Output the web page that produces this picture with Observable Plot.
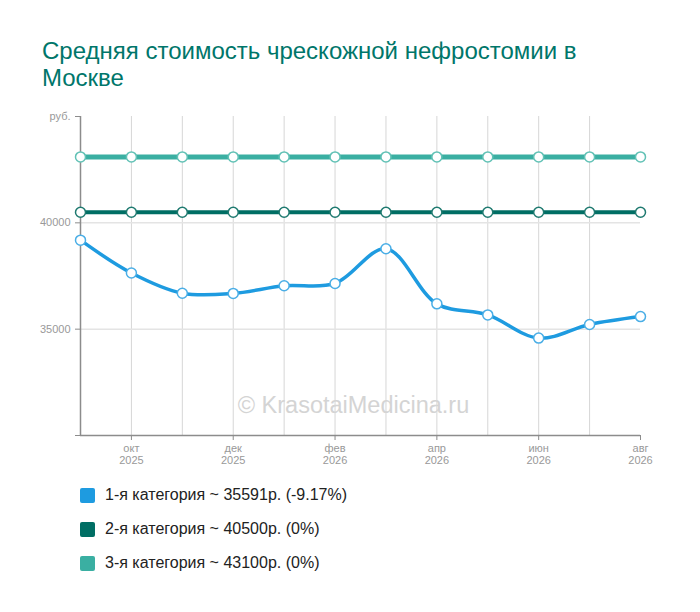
<!DOCTYPE html>
<html>
<head>
<meta charset="utf-8">
<script src="https://cdn.jsdelivr.net/npm/d3@7"></script>
<script src="https://cdn.jsdelivr.net/npm/@observablehq/plot@0.6"></script>
<style>
  body { margin: 0; width: 700px; height: 612px; position: relative; background: #fff; font-family: "Liberation Sans", Arial, sans-serif; overflow: hidden; }
  .title { position: absolute; left: 42px; font-size: 24px; line-height: 24px; height: 24px; color: #00766a; white-space: nowrap; }
  #chart { position: absolute; left: 0; top: 100px; }
  #legend { position: absolute; left: 80px; top: 486px; }
  .row { display: flex; align-items: center; height: 18px; margin-bottom: 16px; font-size: 16px; color: #222; }
  .sw { width: 15px; height: 15px; border-radius: 2px; margin-right: 10px; }
</style>
</head>
<body>
<div class="title" style="top:39px">Средняя стоимость чрескожной нефростомии в</div>
<div class="title" style="top:66px">Москве</div>
<div id="chart"></div>
<div id="legend"></div>
<script>
const months = ["сен\n2025","окт\n2025","ноя\n2025","дек\n2025","янв\n2026","фев\n2026","мар\n2026","апр\n2026","май\n2026","июн\n2026","июл\n2026","авг\n2026"];
const cat1 = [39184, 37640, 36690, 36680, 37040, 37150, 38780, 36190, 35670, 34580, 35220, 35591];
const cat2 = [40500, 40500, 40500, 40500, 40500, 40500, 40500, 40500, 40500, 40500, 40500, 40500];
const cat3 = [43100, 43100, 43100, 43100, 43100, 43100, 43100, 43100, 43100, 43100, 43100, 43100];
const seriesNames = ["1-я категория", "2-я категория", "3-я категория"];
const seriesColors = ["#1e9be0", "#006e64", "#3aafa2"];
const markerColors = ["#4aaee6", "#1f7a70", "#62c2b6"];
const yTicks = [30000, 35000, 40000, 45000];
const yGrid = [35000, 40000];
const legendTexts = ["1-я категория ~ 35591р. (-9.17%)", "2-я категория ~ 40500р. (0%)", "3-я категория ~ 43100р. (0%)"];

const idx = months.map((d, i) => i);
const toRows = (vals, s) => vals.map((v, i) => ({i, month: months[i], value: v, series: s}));
const d1 = toRows(cat1, 0), d2 = toRows(cat2, 1), d3 = toRows(cat3, 2);

const lineFor = (data, k, w) => [
  Plot.line(data, {x: "i", y: "value", stroke: seriesColors[k], strokeWidth: w, curve: "catmull-rom"}),
  Plot.dot(data, {x: "i", y: "value", r: 5, fill: "white", stroke: markerColors[k], strokeWidth: 1.5})
];

const chart = Plot.plot({
  width: 700,
  height: 375,
  marginTop: 16,
  marginBottom: 40,
  marginLeft: 80,
  marginRight: 60,
  style: {fontFamily: "'Liberation Sans', Arial, sans-serif", fontSize: "11px", background: "white"},
  x: {domain: [0, months.length - 1]},
  y: {domain: [30000, 45000]},
  marks: [
    Plot.text(["© KrasotaiMedicina.ru"], {frameAnchor: "bottom", dx: -7, dy: -23, fontSize: 23.5, fill: "#d4d4d4"}),
    Plot.ruleX(idx.slice(1, -1), {stroke: "#d6d6d6", strokeWidth: 1}),
    Plot.ruleY(yGrid, {stroke: "#e4e4e4", strokeWidth: 1.5}),
    Plot.ruleX([0], {stroke: "#8c8c8c", strokeWidth: 1.5}),
    Plot.ruleY([30000], {stroke: "#8c8c8c", strokeWidth: 1.5}),
    Plot.axisY({ticks: yTicks, tickSize: 5, tickPadding: 5, stroke: "#8c8c8c", fill: "#999", label: null,
      tickFormat: d => d === 45000 ? "руб." : d === 30000 ? "" : String(d)}),
    Plot.axisX({ticks: idx.filter(i => i % 2 === 1), tickSize: 5, tickPadding: 3, stroke: "#8c8c8c", fill: "#999", label: null, lineHeight: 1.1,
      tickFormat: i => months[i]}),
    ...lineFor(d3, 2, 5),
    ...lineFor(d2, 1, 4),
    ...lineFor(d1, 0, 3.5)
  ]
});
document.getElementById("chart").appendChild(chart);

const legend = document.getElementById("legend");
legendTexts.forEach((t, k) => {
  const row = document.createElement("div");
  row.className = "row";
  const sw = document.createElement("div");
  sw.className = "sw";
  sw.style.background = seriesColors[k];
  const tx = document.createElement("span");
  tx.textContent = t;
  row.appendChild(sw);
  row.appendChild(tx);
  legend.appendChild(row);
});
</script>
</body>
</html>
